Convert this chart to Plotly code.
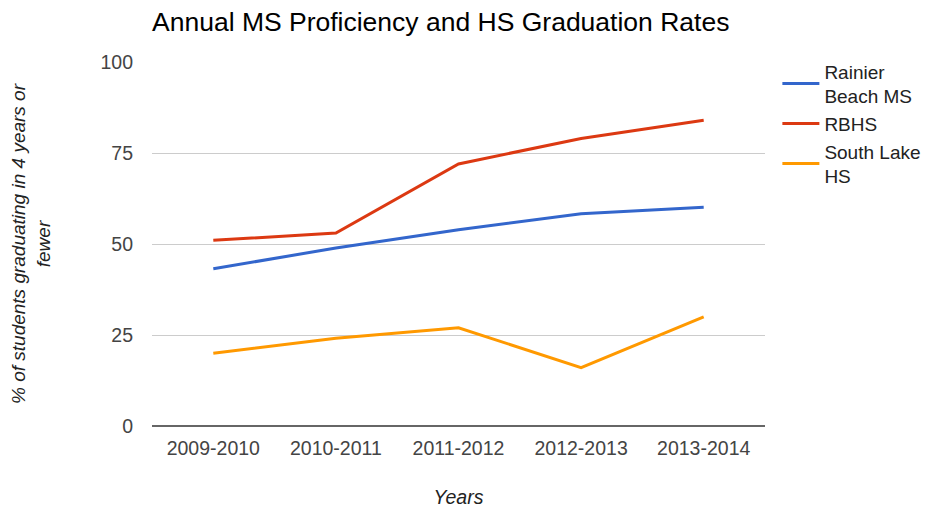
import plotly.graph_objects as go

years = ["2009-2010", "2010-2011", "2011-2012", "2012-2013", "2013-2014"]
rainier_beach_ms = [43.2, 48.9, 53.9, 58.3, 60.1]
rbhs = [51, 53, 72, 79, 84]
south_lake_hs = [20, 24.1, 27, 16, 30]

series_names = ["Rainier<br>Beach MS", "RBHS", "South Lake<br>HS"]
series_values = [rainier_beach_ms, rbhs, south_lake_hs]
series_colors = ["#3366cc", "#dc3912", "#ff9900"]

y_ticks = [0, 25, 50, 75, 100]

fig = go.Figure()
for name, vals, col in zip(series_names, series_values, series_colors):
    fig.add_trace(go.Scatter(x=years, y=vals, mode="lines", name=name,
                             line=dict(color=col, width=3)))

# page body has an 8px margin; figure is sized/offset to compensate
W, H = 924, 500
font_family = "Liberation Sans, Arial, sans-serif"
fig.update_layout(
    width=W, height=H,
    margin=dict(l=144, r=167, t=54, b=82, autoexpand=False),
    paper_bgcolor="white", plot_bgcolor="white",
    font=dict(family=font_family, size=19.5, color="#444444"),
    title=dict(text="Annual MS Proficiency and HS Graduation Rates",
               x=144/W, xanchor="left", y=1 - 14/H, yanchor="middle",
               font=dict(size=26.5, color="#000000", family=font_family)),
    legend=dict(x=1.0202, xanchor="left", y=1.0266, yanchor="top",
                font=dict(size=19, color="#222222"),
                bgcolor="rgba(0,0,0,0)", tracegroupgap=0, itemwidth=37),
    showlegend=True,
)
fig.update_xaxes(
    type="category", range=[-0.5, 4.5], showgrid=False, zeroline=False, showline=False,
    automargin=False, ticklabelstandoff=8,
    ticks="", tickfont=dict(size=19.5, color="#444444"),
    title=dict(text="<i>Years</i>", font=dict(size=19.5, color="#222222"), standoff=42),
)
fig.update_yaxes(
    range=[0, 100], tickvals=y_ticks, showgrid=True, gridcolor="#cccccc", gridwidth=1.4,
    zeroline=True, zerolinecolor="#666666", zerolinewidth=1.5, showline=False,
    automargin=False,
    ticks="", ticklabelstandoff=18, tickfont=dict(size=19.5, color="#444444"),
    title=dict(text="<i>% of students graduating in 4 years or<br>fewer</i>",
               font=dict(size=19, color="#222222"), standoff=50),
)
fig.write_html("out.html")
